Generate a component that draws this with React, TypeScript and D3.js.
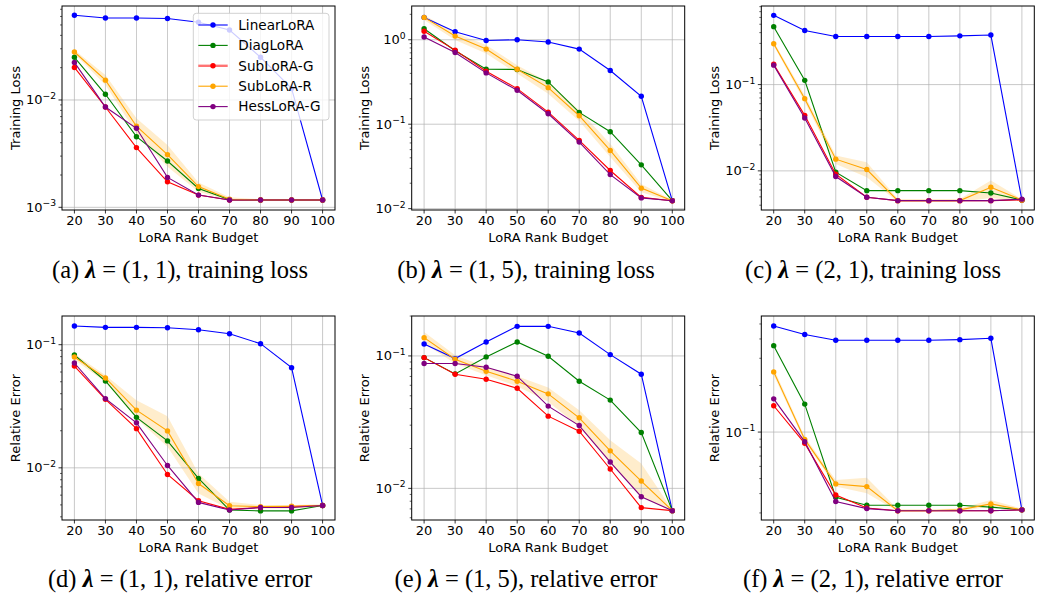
import React from "react";
import * as d3 from "d3";

const ranks = [20, 30, 40, 50, 60, 70, 80, 90, 100];
const methods = ["LinearLoRA", "DiagLoRA", "SubLoRA-G", "SubLoRA-R", "HessLoRA-G"];
const colors = ["#0000ff", "#008000", "#ff0000", "#ffa500", "#800080"];

// (a) training loss, lambda = (1,1) -- rows follow `methods`
const lossA = [
  [0.0615, 0.058, 0.058, 0.0575, 0.053, 0.0449, 0.025, 0.0128, 0.00117],
  [0.025, 0.0113, 0.00455, 0.0027, 0.0015, 0.00118, 0.00117, 0.00117, 0.00117],
  [0.0201, 0.0086, 0.0036, 0.00173, 0.0013, 0.00117, 0.00117, 0.00117, 0.00117],
  [0.028, 0.0153, 0.0057, 0.0031, 0.00156, 0.00119, 0.00117, 0.00117, 0.00117],
  [0.0224, 0.0086, 0.00545, 0.0019, 0.0013, 0.00117, 0.00117, 0.00117, 0.00117],
];
const bandA = [
  [0.0269, 0.0138, 0.00489, 0.00239, 0.0014, 0.00116, 0.00115, 0.00115, 0.00115],
  [0.0292, 0.0171, 0.00675, 0.00381, 0.0017, 0.00124, 0.00119, 0.00119, 0.00119],
];

// (b) training loss, lambda = (1,5)
const lossB = [
  [1.84, 1.245, 0.98, 1.0, 0.94, 0.775, 0.432, 0.214, 0.01245],
  [1.35, 0.74, 0.448, 0.445, 0.317, 0.138, 0.0815, 0.033, 0.01245],
  [1.26, 0.754, 0.424, 0.264, 0.139, 0.0643, 0.0283, 0.0136, 0.0124],
  [1.84, 1.105, 0.775, 0.448, 0.271, 0.126, 0.0489, 0.0175, 0.0124],
  [1.076, 0.707, 0.405, 0.252, 0.133, 0.0614, 0.0253, 0.0134, 0.0124],
];
const bandB = [
  [1.71, 0.99, 0.688, 0.398, 0.23, 0.109, 0.0408, 0.0156, 0.0121],
  [1.96, 1.21, 0.864, 0.5, 0.317, 0.146, 0.0587, 0.0196, 0.0127],
];

// (c) training loss, lambda = (2,1)
const lossC = [
  [0.634, 0.424, 0.361, 0.361, 0.361, 0.361, 0.367, 0.375, 0.0046],
  [0.469, 0.112, 0.00964, 0.0059, 0.0059, 0.0059, 0.0059, 0.00555, 0.0046],
  [0.172, 0.044, 0.00915, 0.00494, 0.00452, 0.00452, 0.00452, 0.00452, 0.0046],
  [0.297, 0.0687, 0.01367, 0.01037, 0.00452, 0.00452, 0.00452, 0.00645, 0.0046],
  [0.168, 0.041, 0.00859, 0.00494, 0.00452, 0.00452, 0.00452, 0.00452, 0.0047],
];
const bandC = [
  [0.282, 0.0629, 0.01205, 0.00843, 0.0044, 0.0044, 0.0044, 0.00485, 0.0045],
  [0.313, 0.0752, 0.01507, 0.01262, 0.00471, 0.00471, 0.00471, 0.00773, 0.0047],
];

// (d) relative error, lambda = (1,1)
const errD = [
  [0.1417, 0.1383, 0.1383, 0.1374, 0.1323, 0.1228, 0.1019, 0.0651, 0.00495],
  [0.0824, 0.0507, 0.0257, 0.01655, 0.0082, 0.00454, 0.00447, 0.00447, 0.00495],
  [0.0671, 0.036, 0.0208, 0.00883, 0.0054, 0.0046, 0.00476, 0.00484, 0.00495],
  [0.0794, 0.0537, 0.0294, 0.01995, 0.00746, 0.00492, 0.00484, 0.00487, 0.00495],
  [0.071, 0.0365, 0.0232, 0.01045, 0.00524, 0.00454, 0.00476, 0.00476, 0.00495],
];
const bandD = [
  [0.0756, 0.0498, 0.0251, 0.0148, 0.0062, 0.0046, 0.00468, 0.00468, 0.00485],
  [0.0845, 0.0564, 0.0354, 0.0262, 0.009, 0.0053, 0.005, 0.005, 0.00505],
];

// (e) relative error, lambda = (1,5)
const errE = [
  [0.1231, 0.0955, 0.1275, 0.1673, 0.1673, 0.1491, 0.1023, 0.0728, 0.00679],
  [0.0971, 0.0732, 0.0983, 0.1275, 0.0994, 0.0644, 0.0464, 0.0264, 0.00679],
  [0.0971, 0.0727, 0.0667, 0.057, 0.0351, 0.027, 0.014, 0.00715, 0.00679],
  [0.1374, 0.0944, 0.0766, 0.0644, 0.0517, 0.0341, 0.0192, 0.01136, 0.00679],
  [0.0876, 0.0876, 0.0821, 0.0703, 0.0418, 0.0298, 0.0158, 0.00865, 0.00679],
];
const bandE = [
  [0.1239, 0.0875, 0.0714, 0.0591, 0.045, 0.0292, 0.0154, 0.00865, 0.0067],
  [0.1518, 0.1012, 0.0826, 0.0703, 0.0577, 0.0389, 0.0231, 0.0154, 0.0069],
];

// (f) relative error, lambda = (2,1)
const errF = [
  [0.485, 0.427, 0.392, 0.392, 0.392, 0.392, 0.396, 0.404, 0.0314],
  [0.362, 0.1516, 0.0379, 0.0336, 0.0336, 0.0336, 0.0336, 0.0327, 0.0314],
  [0.148, 0.0845, 0.0392, 0.0323, 0.031, 0.031, 0.031, 0.031, 0.0314],
  [0.245, 0.0897, 0.0462, 0.0444, 0.031, 0.031, 0.0314, 0.0343, 0.0314],
  [0.164, 0.0867, 0.0356, 0.032, 0.031, 0.031, 0.031, 0.031, 0.0314],
];
const bandF = [
  [0.2333, 0.0867, 0.0444, 0.0402, 0.0307, 0.0307, 0.0308, 0.033, 0.031],
  [0.2576, 0.0933, 0.049, 0.0507, 0.0317, 0.0317, 0.032, 0.0364, 0.032],
];

const panels = [
  { data: lossA, band: bandA, yLim: [0.000944, 0.0751], yLabel: "Training Loss", tag: "(a)", lam: "(1, 1)", what: "training loss", legend: true },
  { data: lossB, band: bandB, yLim: [0.00964, 2.51], yLabel: "Training Loss", tag: "(b)", lam: "(1, 5)", what: "training loss" },
  { data: lossC, band: bandC, yLim: [0.00352, 0.814], yLabel: "Training Loss", tag: "(c)", lam: "(2, 1)", what: "training loss" },
  { data: errD, band: bandD, yLim: [0.00377, 0.171], yLabel: "Relative Error", tag: "(d)", lam: "(1, 1)", what: "relative error" },
  { data: errE, band: bandE, yLim: [0.00577, 0.2002], yLabel: "Relative Error", tag: "(e)", lam: "(1, 5)", what: "relative error" },
  { data: errF, band: bandF, yLim: [0.027, 0.563], yLabel: "Relative Error", tag: "(f)", lam: "(2, 1)", what: "relative error" },
];

const W = 1038, H = 598;
const colLeft = [62, 411.7, 761.3];
const rowTop = [6, 316];
const PW = 273, PH = 204;
const capX = [180, 526, 873];
const capY = [278, 587];
const FONT = "DejaVu Sans, sans-serif";
const FS = 13;

function Panel({ p, left, top }: any) {
  const x = d3.scaleLinear().domain([16, 104]).range([left, left + PW]);
  const y = d3.scaleLog().domain(p.yLim).range([top + PH, top]);
  const [lo, hi] = p.yLim;
  const majors = d3.range(Math.ceil(Math.log10(lo)), Math.floor(Math.log10(hi)) + 1);
  const minors: number[] = [];
  for (let e = Math.floor(Math.log10(lo)); e <= Math.ceil(Math.log10(hi)); e++) {
    for (let k = 2; k < 10; k++) {
      const v = k * Math.pow(10, e);
      if (v >= lo && v <= hi) minors.push(v);
    }
  }
  const line = d3.line<number>().x((_, i) => x(ranks[i])).y((d) => y(d));
  const area = d3
    .area<number>()
    .x((_, i) => x(ranks[i]))
    .y0((d) => y(d))
    .y1((_, i) => y(p.band[1][i]));

  return (
    <g fontFamily={FONT} fontSize={FS}>
      <path d={area(p.band[0]) || ""} fill="#ffa500" opacity={0.2} />
      {ranks.map((r) => (
        <line key={"gx" + r} x1={x(r)} x2={x(r)} y1={top} y2={top + PH} stroke="#b0b0b0" strokeWidth={0.9} opacity={0.75} />
      ))}
      {majors.map((e) => (
        <line key={"gy" + e} x1={left} x2={left + PW} y1={y(Math.pow(10, e))} y2={y(Math.pow(10, e))} stroke="#b0b0b0" strokeWidth={0.9} opacity={0.75} />
      ))}
      {p.data.map((s: number[], i: number) => (
        <g key={methods[i]}>
          <path d={line(s) || ""} fill="none" stroke={colors[i]} strokeWidth={1.1} />
          {s.map((v, j) => (
            <circle key={j} cx={x(ranks[j])} cy={y(v)} r={2.7} fill={colors[i]} />
          ))}
        </g>
      ))}
      <rect x={left} y={top} width={PW} height={PH} fill="none" stroke="#000" strokeWidth={1} />
      {ranks.map((r) => (
        <g key={"tx" + r}>
          <line x1={x(r)} x2={x(r)} y1={top + PH} y2={top + PH + 3.5} stroke="#000" strokeWidth={0.8} />
          <text x={x(r)} y={top + PH + 14.5} textAnchor="middle">{r}</text>
        </g>
      ))}
      {minors.map((v, i) => (
        <line key={"mn" + i} x1={left - 2} x2={left} y1={y(v)} y2={y(v)} stroke="#000" strokeWidth={0.6} />
      ))}
      {majors.map((e) => (
        <g key={"ty" + e}>
          <line x1={left - 3.5} x2={left} y1={y(Math.pow(10, e))} y2={y(Math.pow(10, e))} stroke="#000" strokeWidth={0.8} />
          <text x={left - 6} y={y(Math.pow(10, e)) + 4.5} textAnchor="end">
            10<tspan dy={-5.5} fontSize={9.2}>{e < 0 ? "\u2212" + -e : String(e)}</tspan>
          </text>
        </g>
      ))}
      <text x={left + PW / 2} y={top + PH + 32} textAnchor="middle">LoRA Rank Budget</text>
      <text transform={`translate(${left - 42.5},${top + PH / 2}) rotate(-90)`} textAnchor="middle">{p.yLabel}</text>
      {p.legend && <Legend left={left} top={top} />}
    </g>
  );
}

function Legend({ left, top }: any) {
  const bx = left + 131.3, by = top + 7.3;
  return (
    <g>
      <rect x={bx} y={by} width={135.7} height={106.7} rx={3} fill="#fff" fillOpacity={0.8} stroke="#cccccc" strokeWidth={0.9} />
      {methods.map((m, i) => {
        const cy = top + 19 + i * 20.4;
        return (
          <g key={m}>
            <line
              x1={bx + 5}
              x2={bx + 34.4}
              y1={cy}
              y2={cy}
              stroke={colors[i]}
              strokeWidth={i === 2 ? 2.4 : 1.1}
              strokeOpacity={i === 2 ? 0.55 : 1}
            />
            <circle cx={bx + 19.7} cy={cy} r={2.7} fill={colors[i]} />
            <text x={bx + 45} y={cy + 4.8} fontSize={13.6}>{m}</text>
          </g>
        );
      })}
    </g>
  );
}

export default function App() {
  return (
    <svg width={W} height={H} style={{ position: "absolute", left: 0, top: 0, background: "#fff" }}>
      <rect width={W} height={H} fill="#fff" />
      {panels.map((p, k) => {
        const c = k % 3, r = Math.floor(k / 3);
        return (
          <g key={p.tag}>
            <Panel p={p} left={colLeft[c]} top={rowTop[r]} />
            <text x={capX[c]} y={capY[r]} textAnchor="middle" fontFamily="Liberation Serif, serif" fontSize={24.5}>
              {p.tag}{" "}
              <tspan fontWeight="bold" fontStyle="italic">λ</tspan>
              {" = " + p.lam + ", " + p.what}
            </text>
          </g>
        );
      })}
    </svg>
  );
}
